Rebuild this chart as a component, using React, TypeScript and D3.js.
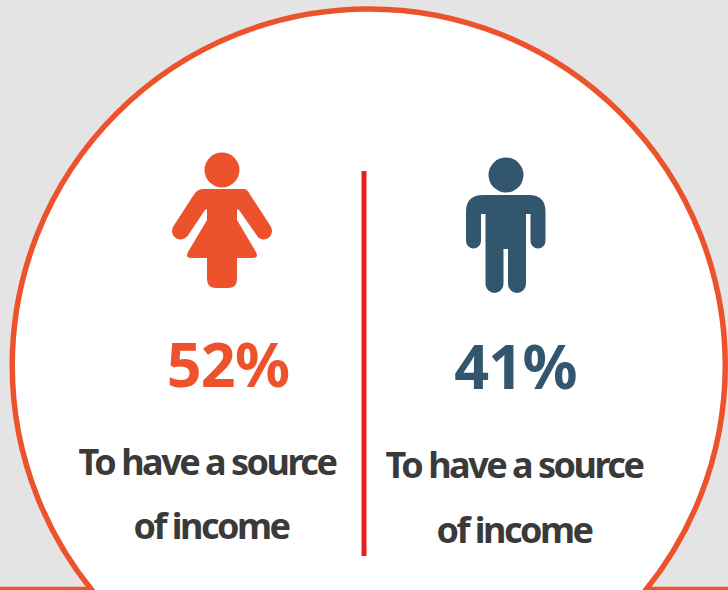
import React from "react";
import * as d3 from "d3";

const groups = ["women", "men"];
const percents = [52, 41];
const captionFirst = ["To have a source", "To have a source"];
const captionSecond = ["of income", "of income"];
const colours = ["#ec532c", "#33566f"];

const W = 728, H = 590;
const FONT = "'Noto Sans', sans-serif";

function womanPath() {
  const p = d3.path();
  p.moveTo(199, 189);
  p.lineTo(245, 189);
  p.quadraticCurveTo(247, 189, 251, 196);
  p.lineTo(270.5, 226);
  p.arc(263.5, 231, 8.5, -0.62, 2.2);
  p.lineTo(239, 210);
  p.quadraticCurveTo(237, 208, 237, 211);
  p.lineTo(237, 220);
  p.lineTo(256, 252);
  p.quadraticCurveTo(259, 258, 253, 258);
  p.lineTo(237, 258);
  p.lineTo(237, 279);
  p.quadraticCurveTo(237, 288, 228, 288);
  p.lineTo(216, 288);
  p.quadraticCurveTo(207, 288, 207, 279);
  p.lineTo(207, 258);
  p.lineTo(191, 258);
  p.quadraticCurveTo(185, 258, 188, 252);
  p.lineTo(207, 220);
  p.lineTo(207, 211);
  p.quadraticCurveTo(207, 208, 205, 210);
  p.lineTo(187.6, 236);
  p.arc(180.5, 231, 8.5, 0.94, 3.76);
  p.lineTo(193, 196);
  p.quadraticCurveTo(197, 189, 203, 189);
  p.closePath();
  p.moveTo(239.5, 170);
  p.arc(222, 170, 17.5, 0, Math.PI * 2);
  p.closePath();
  return p.toString();
}

function manPath() {
  const p = d3.path();
  p.moveTo(483, 195);
  p.lineTo(529, 195);
  p.quadraticCurveTo(545.5, 195, 545.5, 212);
  p.lineTo(545.5, 241);
  p.arc(538, 241, 7.5, 0, Math.PI);
  p.lineTo(530.5, 214);
  p.lineTo(526, 214);
  p.lineTo(526, 284);
  p.arc(517, 284, 9, 0, Math.PI);
  p.lineTo(508, 249);
  p.lineTo(503.5, 249);
  p.lineTo(503.5, 284);
  p.arc(494.5, 284, 9, 0, Math.PI);
  p.lineTo(485.5, 214);
  p.lineTo(481, 214);
  p.lineTo(481, 241);
  p.arc(473.5, 241, 7.5, 0, Math.PI);
  p.lineTo(466, 212);
  p.quadraticCurveTo(466, 195, 483, 195);
  p.closePath();
  p.moveTo(523.5, 175);
  p.arc(506, 175, 17.5, 0, Math.PI * 2);
  p.closePath();
  return p.toString();
}

const iconPaths = [womanPath(), manPath()];
const pctX = [228, 515.5];
const pctY = [387, 389];
const capX1 = [207, 514];
const capX2 = [211, 514];
const capY1 = [475, 478];
const capY2 = [539, 543];

export default function App() {
  const cx = 368.75, cy = 365.5, r = 356.5;
  const chordDy = 588 - cy;
  const chordDx = Math.sqrt(r * r - chordDy * chordDy);
  return (
    <svg width={W} height={H} viewBox={`0 0 ${W} ${H}`}
      style={{ position: "fixed", left: 0, top: 0, display: "block" }}>
      <rect width={W} height={H} fill="#e4e4e4" />
      <line x1={0} x2={cx - chordDx} y1={588.5} y2={588.5} stroke="#ec532c" strokeWidth={3.5} />
      <line x1={cx + chordDx} x2={W} y1={588.5} y2={588.5} stroke="#ec532c" strokeWidth={3.5} />
      <circle cx={cx} cy={cy} r={r} fill="#ffffff" stroke="#ec532c" strokeWidth={5.5} />
      <line x1={364} x2={364} y1={171} y2={556} stroke="#e8201c" strokeWidth={5} />
      {groups.map((g, i) => (
        <g key={g}>
          <path d={iconPaths[i]} fill={colours[i]} />
          <text x={pctX[i]} y={pctY[i]} textAnchor="middle" fill={colours[i]}
            style={{ fontFamily: FONT, fontWeight: 700, fontSize: 61, letterSpacing: -0.7 }}>
            {d3.format("d")(percents[i])}%
          </text>
          <text x={capX1[i]} y={capY1[i]} textAnchor="middle" fill="#3a3a3a"
            style={{ fontFamily: FONT, fontWeight: 700, fontSize: 36, letterSpacing: -2.5 }}>
            {captionFirst[i]}
          </text>
          <text x={capX2[i]} y={capY2[i]} textAnchor="middle" fill="#3a3a3a"
            style={{ fontFamily: FONT, fontWeight: 700, fontSize: 36, letterSpacing: -2.5 }}>
            {captionSecond[i]}
          </text>
        </g>
      ))}
    </svg>
  );
}
